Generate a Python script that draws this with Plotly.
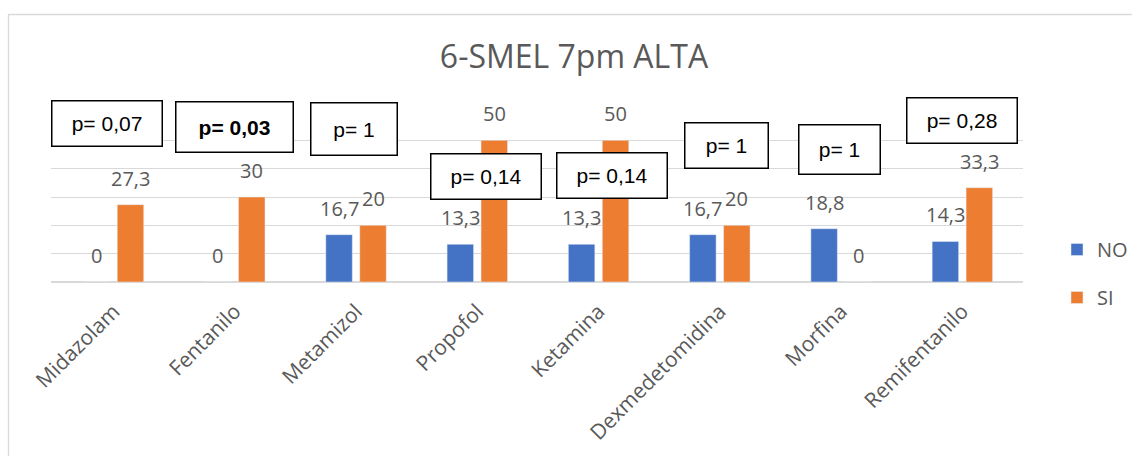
import plotly.graph_objects as go

# Drug categories and percentage of patients per group
categories = ["Midazolam", "Fentanilo", "Metamizol", "Propofol",
              "Ketamina", "Dexmedetomidina", "Morfina", "Remifentanilo"]
no_values = [0, 0, 16.7, 13.3, 13.3, 16.7, 18.8, 14.3]
si_values = [27.3, 30, 20, 50, 50, 20, 0, 33.3]

# p-values shown in boxes above each drug
p_labels = ["p= 0,07", "<b>p= 0,03</b>", "p= 1", "p= 0,14",
            "p= 0,14", "p= 1", "p= 1", "p= 0,28"]

BLUE = "#4472C4"
ORANGE = "#ED7D31"
GREY_TEXT = "#595959"
GRID = "#D9D9D9"
FONT = "Open Sans"

W, H = 1132, 456
M_L, M_R, M_T, M_B = 51, 109, 112, 174
PLOT_W = W - M_L - M_R
PLOT_H = H - M_T - M_B


def fmt(v):
    s = ("%.1f" % v).rstrip("0").rstrip(".")
    return s.replace(".", ",")


fig = go.Figure()
fig.add_trace(go.Bar(name="NO", x=categories, y=no_values, marker_color=BLUE,
                     legendgroup="no"))
fig.add_trace(go.Bar(name="SI", x=categories, y=si_values, marker_color=ORANGE,
                     legendgroup="si"))

annotations = []
# value labels above bars
bar_offset = 17
for vals, shift in ((no_values, -bar_offset), (si_values, bar_offset)):
    for cat, v in zip(categories, vals):
        annotations.append(dict(
            x=cat, y=v, xref="x", yref="y", text=fmt(v), showarrow=False,
            xshift=shift, yshift=11, yanchor="bottom",
            font=dict(family=FONT, size=20, color=GREY_TEXT)))

# p-value boxes: (x shift from category centre, centre y in px, width, height)
box_layout = [(-6.5, 123.2, 111, 46), (-0.3, 126.8, 118, 51),
              (-1.8, 128.7, 87, 53), (9.0, 176.7, 111, 46),
              (13.0, 175.0, 111, 46), (7.0, 145.2, 84, 46),
              (-1.5, 149.5, 82, 50), (0.0, 120.9, 111, 46)]
for cat, txt, (dx, cy, bw, bh) in zip(categories, p_labels, box_layout):
    annotations.append(dict(
        x=cat, xref="x", xshift=dx,
        y=(M_T + PLOT_H - cy) / PLOT_H, yref="paper", yanchor="middle",
        text=txt, showarrow=False, align="center",
        width=bw - 2, height=bh - 2, borderpad=0,
        bordercolor="#000000", borderwidth=1.5, bgcolor="#FFFFFF",
        font=dict(family="Liberation Sans", size=21, color="#000000")))

shapes = [dict(type="rect", xref="paper", yref="paper",
               x0=(8.5 - M_L) / PLOT_W, x1=(W + 20 - M_L) / PLOT_W,
               y0=(M_T + PLOT_H - (H + 20)) / PLOT_H,
               y1=(M_T + PLOT_H - 14.5) / PLOT_H,
               line=dict(color=GRID, width=1.3), layer="below")]

fig.update_layout(
    width=W, height=H,
    margin=dict(l=M_L, r=M_R, t=M_T, b=M_B, pad=0, autoexpand=False),
    paper_bgcolor="#FFFFFF", plot_bgcolor="#FFFFFF",
    barmode="group", bargap=0.44, bargroupgap=0.22,
    title=dict(text="6-SMEL 7pm ALTA", x=574 / W, xanchor="center",
               y=1 - 57 / H, yanchor="middle", yref="container",
               font=dict(family=FONT, size=32, color=GREY_TEXT)),
    xaxis=dict(tickangle=-45, showline=False, ticks="", showgrid=False,
               ticklabelstandoff=12,
               tickfont=dict(family=FONT, size=21, color=GREY_TEXT)),
    yaxis=dict(range=[0, 60], dtick=10, showticklabels=False,
               showgrid=True, gridcolor=GRID, gridwidth=1.3,
               zeroline=True, zerolinecolor=GRID, zerolinewidth=1.6,
               fixedrange=True),
    legend=dict(x=(1057 - M_L) / PLOT_W, xanchor="left",
                y=(M_T + PLOT_H - 273.5) / PLOT_H, yanchor="middle",
                traceorder="grouped", tracegroupgap=19, itemwidth=30,
                font=dict(family=FONT, size=20, color=GREY_TEXT),
                bgcolor="rgba(0,0,0,0)"),
    annotations=annotations, shapes=shapes,
)

fig.write_html("out.html")
